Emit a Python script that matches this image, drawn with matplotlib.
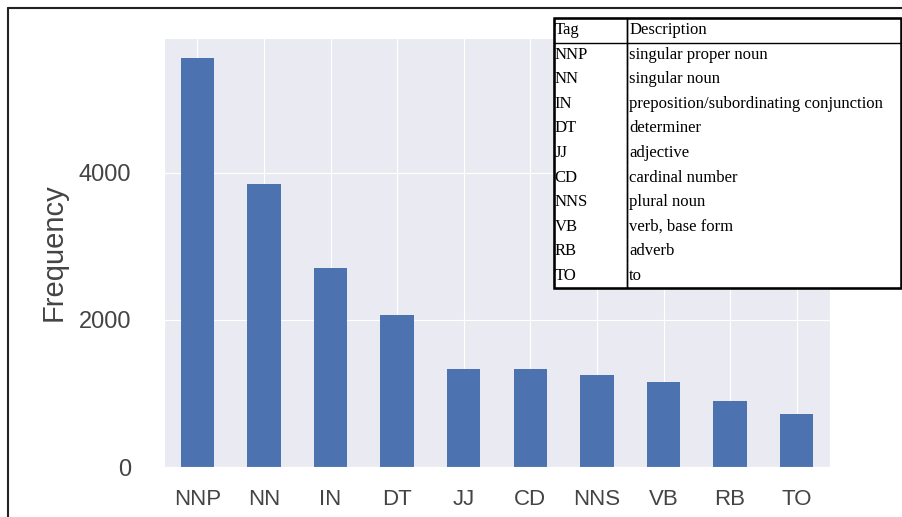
import matplotlib
matplotlib.use("Agg")
import matplotlib.pyplot as plt
import seaborn as sns
from matplotlib.lines import Line2D

tags = ["NNP", "NN", "IN", "DT", "JJ", "CD", "NNS", "VB", "RB", "TO"]
freq = [5555, 3850, 2707, 2068, 1333, 1330, 1247, 1160, 898, 721]
descriptions = ["singular proper noun", "singular noun",
                "preposition/subordinating conjunction", "determiner",
                "adjective", "cardinal number", "plural noun",
                "verb, base form", "adverb", "to"]
yticks = [0, 2000, 4000]

sns.set_style("darkgrid")
plt.rcParams['font.family'] = ['Liberation Sans', 'DejaVu Sans']

W, H = 902, 517
fig = plt.figure(figsize=(W / 100, H / 100), dpi=100)
fig.patch.set_facecolor("white")


def px(x0, y0, x1, y1):
    # pixel box (top-left origin) -> figure fraction rect
    return [x0 / W, 1 - y1 / H, (x1 - x0) / W, (y1 - y0) / H]


ax = fig.add_axes(px(164, 38, 830, 467))
ax.bar(range(len(tags)), freq, width=0.5, color="#4c72b0", linewidth=0)
ax.set_xlim(-0.5, len(tags) - 0.5)
ax.set_ylim(0, max(freq) * 1.05)
ax.set_xticks(range(len(tags)))
ax.set_xticklabels(tags, fontsize=16, color="#444444")
ax.set_yticks(yticks)
ax.set_yticklabels([str(v) for v in yticks], fontsize=17, color="#444444")
ax.set_ylabel("Frequency", fontsize=21, color="#444444", labelpad=8)
ax.tick_params(axis="x", pad=12)
ax.tick_params(axis="y", pad=20)

# table of tag descriptions
tax = fig.add_axes(px(554, 18, 901, 288))
tax.axis("off")
tax.add_patch(plt.Rectangle((0, 0), 1, 1, transform=tax.transAxes,
                            facecolor="white", edgecolor="none", zorder=0))
tbl = tax.table(cellText=[[t, d] for t, d in zip(tags, descriptions)],
                colLabels=["Tag", "Description"], bbox=[0, 0, 1, 1],
                colWidths=[73 / 347, 274 / 347], cellLoc="left")
tbl.set_zorder(2)
tbl.auto_set_font_size(False)
nrows = len(tags)
for (r, c), cell in tbl.get_celld().items():
    cell.set_edgecolor("black")
    cell.set_linewidth(1.0)
    cell.set_facecolor("none")
    cell.PAD = 0.008
    if r == 0:
        cell.visible_edges = "closed"
    elif r == nrows:
        cell.visible_edges = "BLR"
    else:
        cell.visible_edges = "LR"
    cell.get_text().set_fontsize(12)
    cell.get_text().set_fontfamily("Liberation Serif")
    cell.set_text_props(ha="left", color="black")
tax.add_patch(plt.Rectangle((0, 0), 1, 1, transform=tax.transAxes,
                            fill=False, edgecolor="black", linewidth=1.8,
                            clip_on=False, zorder=3))

# screenshot frame
fig.add_artist(Line2D([8 / W, 8 / W], [0, 1 - 8 / H], color="#222222", lw=1.5))
fig.add_artist(Line2D([8 / W, 1], [1 - 8 / H, 1 - 8 / H], color="#222222", lw=1.5))

fig.savefig("out.png", dpi=100)
